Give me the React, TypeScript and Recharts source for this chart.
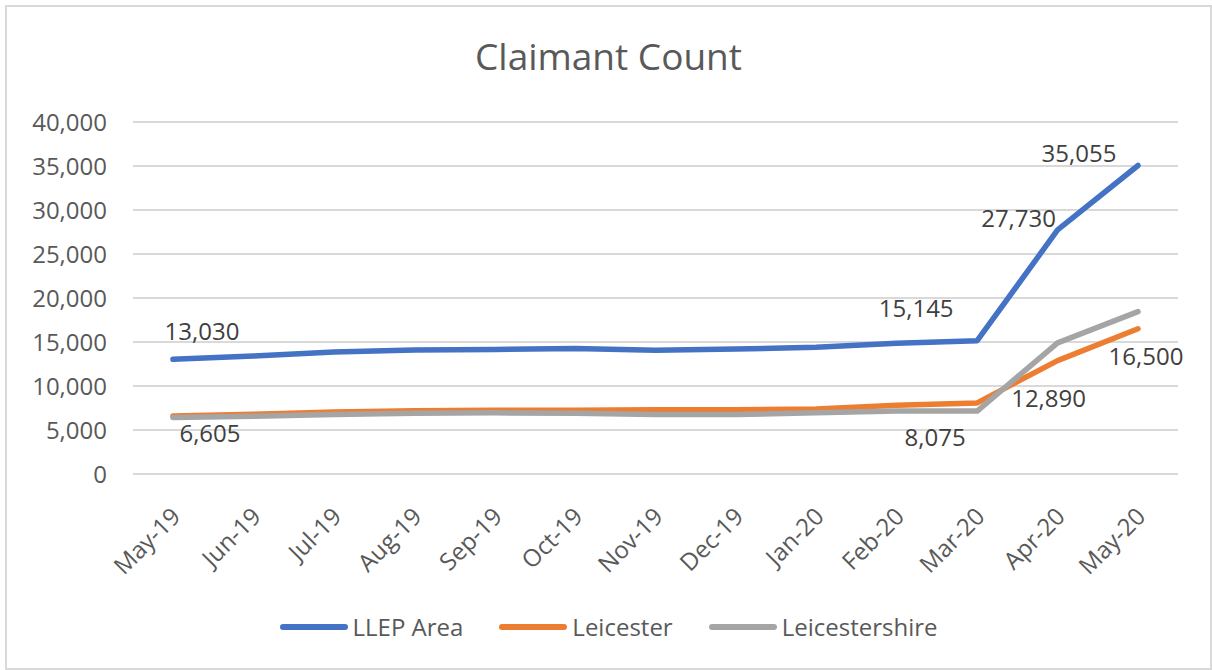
import React from "react";
import { LineChart, Line, XAxis, YAxis, CartesianGrid, Legend, LabelList } from "recharts";

const months = [
  "May-19", "Jun-19", "Jul-19", "Aug-19", "Sep-19", "Oct-19", "Nov-19",
  "Dec-19", "Jan-20", "Feb-20", "Mar-20", "Apr-20", "May-20",
];
const llepArea = [13030, 13400, 13850, 14090, 14150, 14250, 14050, 14200, 14400, 14850, 15145, 27730, 35055];
const leicester = [6605, 6800, 7050, 7200, 7250, 7250, 7300, 7300, 7400, 7800, 8075, 12890, 16500];
const leicestershire = [6425, 6550, 6750, 6900, 6950, 6900, 6750, 6750, 6950, 7150, 7150, 14900, 18450];
const yTicks = [0, 5000, 10000, 15000, 20000, 25000, 30000, 35000, 40000];

// which points carry a data label
const llepLabelled = [0, 10, 11, 12];
const leicesterLabelled = [0, 10, 11, 12];

const rows = months.map((m, i) => ({
  month: m,
  llep: llepArea[i],
  leicester: leicester[i],
  leicestershire: leicestershire[i],
}));

const FONT = "'Open Sans', 'Noto Sans', sans-serif";
const AXIS_GREY = "#595959";

// label offsets from the point (text centre), per series
const llepOffsets: Record<number, [number, number]> = {
  0: [29, -28],
  10: [-61, -33],
  11: [-39, -12],
  12: [-59, -13],
};
const leicesterOffsets: Record<number, [number, number]> = {
  0: [37, 17],
  10: [-42, 34],
  11: [-9, 37],
  12: [8, 27],
};

const makeLabel = (shown: number[], offsets: Record<number, [number, number]>) => (props: any) => {
  const { x, y, value, index } = props;
  if (!shown.includes(index)) return null;
  const [dx, dy] = offsets[index] || [0, -15];
  return (
    <text
      x={x + dx}
      y={y + dy + 9}
      textAnchor="middle"
      fontFamily={FONT}
      fontSize={24}
      fill="#404040"
    >
      {Number(value).toLocaleString("en-US")}
    </text>
  );
};

const MonthTick = (props: any) => {
  const { x, y, payload } = props;
  return (
    <g transform={`translate(${x + 9},${y + 36})`}>
      <text
        textAnchor="end"
        transform="rotate(-45)"
        fontFamily={FONT}
        fontSize={24}
        fill={AXIS_GREY}
      >
        {payload.value}
      </text>
    </g>
  );
};

const LegendContent = (props: any) => {
  const { payload } = props;
  return (
    <div style={{ display: "flex", justifyContent: "center", gap: 36, height: 34 }}>
      {(payload || []).map((p: any) => (
        <div key={p.value} style={{ display: "flex", alignItems: "center", gap: 5 }}>
          <span
            style={{
              display: "inline-block",
              width: 68,
              height: 6,
              borderRadius: 3,
              background: p.color,
            }}
          />
          <span style={{ fontFamily: FONT, fontSize: 24, color: AXIS_GREY, lineHeight: "34px" }}>
            {p.value}
          </span>
        </div>
      ))}
    </div>
  );
};

export default function App() {
  return (
    <div
      style={{
        position: "absolute",
        left: 5,
        top: 5,
        width: 1207,
        height: 665,
        border: "2px solid #d9d9d9",
        boxSizing: "border-box",
        background: "#fff",
      }}
    >
      <div
        style={{
          position: "absolute",
          left: 0,
          width: 1203,
          top: 30,
          textAlign: "center",
          fontFamily: FONT,
          fontSize: 37,
          lineHeight: 1,
          color: AXIS_GREY,
        }}
      >
        Claimant Count
      </div>
      <LineChart
        width={1203}
        height={661}
        data={rows}
        margin={{ top: 115, right: 32, bottom: 0, left: 6 }}
        style={{ position: "absolute", left: 0, top: 0 }}
      >
        <CartesianGrid vertical={false} stroke="#d9d9d9" strokeWidth={2} />
        <XAxis
          dataKey="month"
          interval={0}
          padding={{ left: 40, right: 40 }}
          axisLine={false}
          tickLine={false}
          height={194}
          tick={<MonthTick />}
        />
        <YAxis
          domain={[0, 40000]}
          ticks={yTicks}
          width={120}
          axisLine={false}
          tickLine={false}
          tickSize={0}
          tickMargin={26}
          tick={{ fontFamily: FONT, fontSize: 24, fill: AXIS_GREY }}
          tickFormatter={(v: number) => v.toLocaleString("en-US")}
        />
        <Legend
          verticalAlign="middle"
          align="center"
          content={<LegendContent />}
          wrapperStyle={{ position: "absolute", left: 0, top: 603, width: 1203 }}
        />
        <Line
          dataKey="llep"
          name="LLEP Area"
          stroke="#4472C4"
          strokeWidth={5.5}
          strokeLinecap="round"
          strokeLinejoin="round"
          dot={false}
          activeDot={false}
          isAnimationActive={false}
        >
          <LabelList dataKey="llep" content={makeLabel(llepLabelled, llepOffsets)} />
        </Line>
        <Line
          dataKey="leicester"
          name="Leicester"
          stroke="#ED7D31"
          strokeWidth={5.5}
          strokeLinecap="round"
          strokeLinejoin="round"
          dot={false}
          activeDot={false}
          isAnimationActive={false}
        >
          <LabelList dataKey="leicester" content={makeLabel(leicesterLabelled, leicesterOffsets)} />
        </Line>
        <Line
          dataKey="leicestershire"
          name="Leicestershire"
          stroke="#A5A5A5"
          strokeWidth={5.5}
          strokeLinecap="round"
          strokeLinejoin="round"
          dot={false}
          activeDot={false}
          isAnimationActive={false}
        />
      </LineChart>
    </div>
  );
}
